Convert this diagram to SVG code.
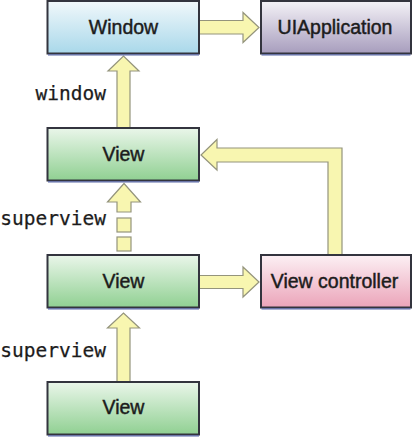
<svg xmlns="http://www.w3.org/2000/svg" width="413" height="438" viewBox="0 0 413 438">
  <defs>
    <linearGradient id="gBlue" x1="0" y1="0" x2="0" y2="1">
      <stop offset="0" stop-color="#f1f8fb"/>
      <stop offset="1" stop-color="#a9d8ea"/>
    </linearGradient>
    <linearGradient id="gGreen" x1="0" y1="0" x2="0" y2="1">
      <stop offset="0" stop-color="#eaf6ea"/>
      <stop offset="1" stop-color="#90d092"/>
    </linearGradient>
    <linearGradient id="gPurple" x1="0" y1="0" x2="0" y2="1">
      <stop offset="0" stop-color="#f4f2f7"/>
      <stop offset="1" stop-color="#a79dbd"/>
    </linearGradient>
    <linearGradient id="gPink" x1="0" y1="0" x2="0" y2="1">
      <stop offset="0" stop-color="#fcf0f4"/>
      <stop offset="1" stop-color="#eba4b9"/>
    </linearGradient>
  </defs>
  <style>
    .box { stroke: #33343e; stroke-width: 2; }
    .shadow { stroke: #5a68a8; stroke-width: 1.2; fill: none; }
    .lbl { font-family: "Liberation Sans", Arial, sans-serif; font-size: 19.5px; fill: #1c1c1c; stroke: #1c1c1c; stroke-width: 0.45; text-anchor: middle; }
    .code { font-family: "DejaVu Sans Mono", "Liberation Mono", monospace; font-size: 19.5px; fill: #1c1c1c; stroke: #1c1c1c; stroke-width: 0.25; text-anchor: end; }
    .arrow { fill: #f8f6b0; stroke: #94947c; stroke-width: 1.2; stroke-linejoin: miter; }
  </style>
  <rect width="413" height="438" fill="#ffffff"/>

  <g id="connectors">
    <path class="arrow" d="M199,20.5 H243 V12.5 L259,27.5 L243,42.5 V34 H199 Z"/>
    <path class="arrow" d="M117,128 V71 H108 L123.5,56 L139,71 H130 V128 Z"/>
    <path class="arrow" d="M328,255 V162 H217 V170 L201,155 L217,139.5 V148 H342 V255 Z"/>
    <g id="dashed-superview">
      <path class="arrow" d="M117,212 V202 H107.5 L124,183.5 L140.5,202 H131 V212 Z"/>
      <rect class="arrow" x="117" y="218" width="14" height="14"/>
      <rect class="arrow" x="117" y="237" width="14" height="14"/>
    </g>
    <path class="arrow" d="M199,275.5 H243 V267 L259,282 L243,297 V288.5 H199 Z"/>
    <path class="arrow" d="M117,382 V328 H107.5 L123.5,313 L139.5,328 H130 V382 Z"/>
  </g>

  <g id="labels">
    <text class="code" x="106" y="100">window</text>
    <text class="code" x="106" y="225">superview</text>
    <text class="code" x="106" y="356.5">superview</text>
  </g>

  <g id="window">
    <rect class="box" x="47.5" y="1" width="151.5" height="52.5" fill="url(#gBlue)"/>
    <line class="shadow" x1="48" y1="54.8" x2="199" y2="54.8"/>
    <text class="lbl" x="123.5" y="33.5">Window</text>
  </g>
  <g id="uiapplication">
    <rect class="box" x="261" y="1" width="150" height="52.5" fill="url(#gPurple)"/>
    <line class="shadow" x1="261.5" y1="54.8" x2="410.5" y2="54.8"/>
    <text class="lbl" x="335" y="33.5">UIApplication</text>
  </g>
  <g id="view1">
    <rect class="box" x="47.5" y="128" width="151.5" height="52.5" fill="url(#gGreen)"/>
    <line class="shadow" x1="48" y1="181.8" x2="199" y2="181.8"/>
    <text class="lbl" x="123.5" y="160.5">View</text>
  </g>
  <g id="view2">
    <rect class="box" x="47.5" y="255" width="151.5" height="52.5" fill="url(#gGreen)"/>
    <line class="shadow" x1="48" y1="308.8" x2="199" y2="308.8"/>
    <text class="lbl" x="123.5" y="287.5">View</text>
  </g>
  <g id="viewcontroller">
    <rect class="box" x="261" y="255" width="150" height="52.5" fill="url(#gPink)"/>
    <line class="shadow" x1="261.5" y1="308.8" x2="410.5" y2="308.8"/>
    <text class="lbl" x="334.5" y="287.5">View controller</text>
  </g>
  <g id="view3">
    <rect class="box" x="47.5" y="382" width="151.5" height="52.5" fill="url(#gGreen)"/>
    <line class="shadow" x1="48" y1="435.8" x2="199" y2="435.8"/>
    <text class="lbl" x="123.5" y="414">View</text>
  </g>
</svg>
